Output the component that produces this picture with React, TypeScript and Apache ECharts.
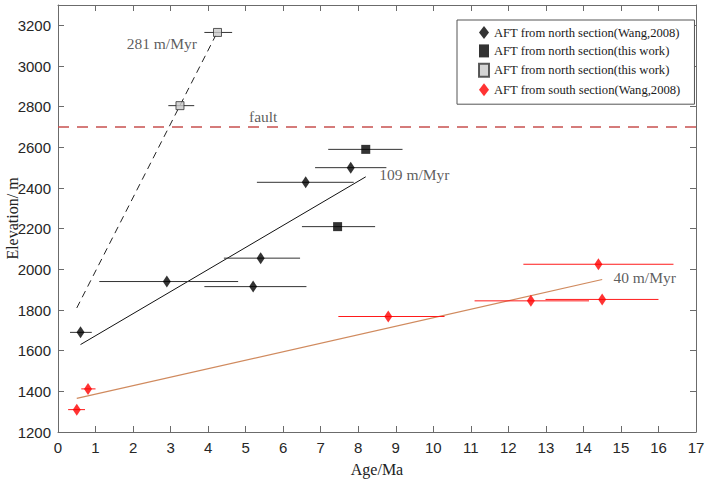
import React, { useEffect, useRef } from "react";
import * as echarts from "echarts";

// ---- data ----
const northWangAge = [0.6, 2.9, 5.2, 5.4, 6.6, 7.8];
const northWangElev = [1690, 1940, 1915, 2055, 2428, 2500];
const northWangMin = [0.32, 1.1, 3.9, 4.42, 5.3, 6.85];
const northWangMax = [0.9, 4.8, 6.62, 6.45, 7.88, 8.75];

const northThisAge = [8.2, 7.45];
const northThisElev = [2590, 2210];
const northThisMin = [7.2, 6.5];
const northThisMax = [9.18, 8.45];

const northGreyAge = [4.25, 3.25];
const northGreyElev = [3165, 2805];
const northGreyMin = [3.9, 2.94];
const northGreyMax = [4.64, 3.63];

const southAge = [0.5, 0.8, 8.8, 12.6, 14.5, 14.4];
const southElev = [1310, 1412, 1768, 1845, 1852, 2025];
const southMin = [0.27, 0.62, 7.47, 11.1, 12.99, 12.4];
const southMax = [0.72, 1.0, 10.3, 14.15, 16.0, 16.4];

const fit281 = [[0.5, 1810], [4.2, 3150]];
const fit109 = [[0.6, 1630], [8.2, 2455]];
const fit40 = [[0.5, 1365], [14.5, 1950]];
const faultElev = 2700;
const ageRange = [0, 17];

const annotLeft = [{ x: 3.7, y: 3112, text: "281 m/Myr" }];
const annotRight = [
  { x: 8.56, y: 2467, text: "109 m/Myr" },
  { x: 14.8, y: 1960, text: "40 m/Myr" },
  { x: 5.09, y: 2753, text: "fault" },
];

const legendNames: Record<string, string> = {
  nw: "AFT from north section(Wang,2008)",
  nt: "AFT from north section(this work)",
  ng: "AFT from north section(this work)",
  sw: "AFT from south section(Wang,2008)",
};

const SERIF = "'Liberation Serif', 'Times New Roman', serif";
const SANS = "'Liberation Sans', Arial, sans-serif";
const AXIS_COLOR = "#6b6b6b";

function pts(a: number[], e: number[]) {
  return a.map((v, i) => [v, e[i]]);
}
function bars(a: number[], e: number[], lo: number[], hi: number[]) {
  return a.map((v, i) => [v, e[i], lo[i], hi[i]]);
}

function errSeries(data: number[][], color: string) {
  return {
    type: "custom",
    silent: true,
    z: 2,
    data,
    encode: { x: [2, 3], y: 1 },
    renderItem: (_p: any, api: any) => {
      const y = api.value(1);
      const a = api.coord([api.value(2), y]);
      const b = api.coord([api.value(3), y]);
      return {
        type: "line",
        shape: { x1: a[0], y1: a[1], x2: b[0], y2: b[1] },
        style: { stroke: color, lineWidth: 1 },
      };
    },
  };
}

export default function App() {
  const ref = useRef<HTMLDivElement>(null);
  useEffect(() => {
    if (!ref.current) return;
    const chart = echarts.init(ref.current, null, { renderer: "svg" });
    const axisCommon = {
      min: ageRange[0],
      max: ageRange[1],
      interval: 1,
      axisLine: { show: true, onZero: false, lineStyle: { color: AXIS_COLOR, width: 1 } },
      axisTick: { show: true, inside: true, length: 6, lineStyle: { color: AXIS_COLOR } },
      splitLine: { show: false },
    };
    const yCommon = {
      min: 1200,
      max: 3300,
      interval: 200,
      axisLine: { show: true, onZero: false, lineStyle: { color: AXIS_COLOR, width: 1 } },
      axisTick: { show: true, inside: true, length: 6, lineStyle: { color: AXIS_COLOR } },
      splitLine: { show: false },
    };
    const lineStyle = (color: string, type: any = "solid", width = 1) => ({
      type: "line",
      showSymbol: false,
      symbol: "none",
      silent: true,
      lineStyle: { color, width, type },
      z: 1,
    });
    chart.setOption({
      animation: false,
      backgroundColor: "#ffffff",
      grid: {
        left: 58,
        right: 10,
        top: 5,
        bottom: 49,
        containLabel: false,
        outerBoundsMode: "none",
      },
      xAxis: [
        {
          type: "value",
          position: "bottom",
          ...axisCommon,
          name: "Age/Ma",
          nameLocation: "middle",
          nameGap: 29,
          nameMoveOverlap: false,
          nameTextStyle: { fontFamily: SERIF, fontSize: 16, color: "#222" },
          axisLabel: { fontFamily: SANS, fontSize: 15, color: "#262626", margin: 8 },
        },
        {
          type: "value",
          position: "top",
          ...axisCommon,
          axisLabel: { show: false },
        },
      ],
      yAxis: [
        {
          type: "value",
          position: "left",
          ...yCommon,
          name: "Elevation/ m",
          nameLocation: "middle",
          nameGap: 38,
          nameMoveOverlap: false,
          nameTextStyle: { fontFamily: SERIF, fontSize: 16, color: "#222" },
          axisLabel: {
            fontFamily: SANS,
            fontSize: 15,
            color: "#262626",
            margin: 7,
            showMaxLabel: false,
            formatter: (v: number) => (v > 3200 ? "" : String(v)),
          },
        },
        {
          type: "value",
          position: "right",
          ...yCommon,
          axisLabel: { show: false },
        },
      ],
      legend: {
        orient: "vertical",
        left: 457,
        top: 20,
        backgroundColor: "#ffffff",
        borderColor: "#555",
        borderWidth: 1,
        borderRadius: 0,
        padding: [6, 14, 8, 21],
        itemGap: 5.4,
        itemWidth: 10,
        itemHeight: 13,
        selectedMode: false,
        textStyle: { fontFamily: SERIF, fontSize: 12.6, color: "#1a1a1a" },
        formatter: (n: string) => legendNames[n] || n,
        data: [
          { name: "nw", icon: "diamond", itemStyle: { color: "#000" } },
          { name: "nt", icon: "rect" },
          { name: "ng", icon: "rect" },
          { name: "sw", icon: "diamond" },
        ],
      },
      series: [
        {
          ...lineStyle("#c8504f", [11, 8], 1.5),
          data: [[ageRange[0], faultElev], [ageRange[1], faultElev]],
        },
        { ...lineStyle("#222", [7, 5], 1), data: fit281 },
        { ...lineStyle("#111", "solid", 1), data: fit109 },
        { ...lineStyle("#d08a5e", "solid", 1.2), data: fit40 },
        errSeries(bars(northWangAge, northWangElev, northWangMin, northWangMax), "#333"),
        errSeries(bars(northThisAge, northThisElev, northThisMin, northThisMax), "#333"),
        errSeries(bars(northGreyAge, northGreyElev, northGreyMin, northGreyMax), "#333"),
        errSeries(bars(southAge, southElev, southMin, southMax), "#ff1a1a"),
        {
          name: "nw",
          type: "scatter",
          symbol: "diamond",
          symbolSize: [8, 12],
          itemStyle: { color: "#000" },
          z: 5,
          data: pts(northWangAge, northWangElev),
        },
        {
          name: "nt",
          type: "scatter",
          symbol: "rect",
          symbolSize: 9,
          itemStyle: { color: "#000" },
          z: 5,
          data: pts(northThisAge, northThisElev),
        },
        {
          name: "ng",
          type: "scatter",
          symbol: "rect",
          symbolSize: 8,
          itemStyle: { color: "#c9c9c9", borderColor: "#333", borderWidth: 1 },
          z: 5,
          data: pts(northGreyAge, northGreyElev),
        },
        {
          name: "sw",
          type: "scatter",
          symbol: "diamond",
          symbolSize: [8, 12],
          itemStyle: { color: "#ff0000" },
          z: 5,
          data: pts(southAge, southElev),
        },
        {
          type: "scatter",
          symbolSize: 0,
          silent: true,
          z: 6,
          label: {
            show: true,
            position: "left",
            distance: 0,
            fontFamily: SERIF,
            fontSize: 15.5,
            color: "#333",
            formatter: (p: any) => p.data.text,
          },
          data: annotLeft.map((a) => ({ value: [a.x, a.y], text: a.text })),
        },
        {
          type: "scatter",
          symbolSize: 0,
          silent: true,
          z: 6,
          label: {
            show: true,
            position: "right",
            distance: 0,
            fontFamily: SERIF,
            fontSize: 15.5,
            color: "#333",
            formatter: (p: any) => p.data.text,
          },
          data: annotRight.map((a) => ({ value: [a.x, a.y], text: a.text })),
        },
      ],
    });
    return () => chart.dispose();
  }, []);
  return (
    <div
      ref={ref}
      style={{ position: "fixed", left: 0, top: 0, width: 706, height: 481, background: "#fff" }}
    />
  );
}
